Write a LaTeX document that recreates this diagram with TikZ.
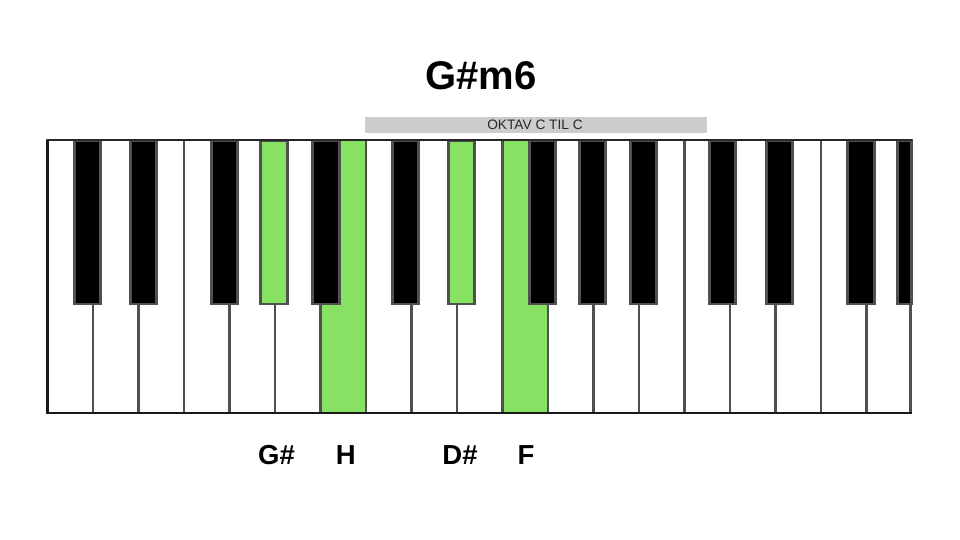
\documentclass[tikz,border=0pt]{standalone}
\usepackage{fontspec}
\setmainfont{Liberation Sans}
\definecolor{keygreen}{RGB}{135,226,99}
\definecolor{keyedge}{RGB}{80,80,80}
\definecolor{barfill}{RGB}{204,204,204}
\definecolor{bartext}{RGB}{40,40,40}
\tikzset{
  whitekey/.style={draw=keyedge, line width=2.7pt, fill=white, minimum width=45.5pt, minimum height=273pt, anchor=north west, inner sep=0pt, outer sep=0pt},
  blackkey/.style={draw=keyedge, line width=2.7pt, fill=black, minimum width=26.5pt, minimum height=163.5pt, anchor=north, inner sep=0pt, outer sep=0pt},
  greenwhite/.style={whitekey, fill=keygreen},
  greenblack/.style={blackkey, fill=keygreen},
  notelabel/.style={font=\bfseries\fontsize{27.5}{30}\selectfont, anchor=base, inner sep=0pt},
}
\begin{document}
\begin{tikzpicture}[x=1pt, y=-1pt]
\useasboundingbox[fill=white] (0,0) rectangle (960,540);
% title
\node[font=\bfseries\fontsize{40}{46}\selectfont, anchor=base, inner sep=0pt] (title) at (481,90) {G\#m6};
% octave bar
\node[fill=barfill, minimum width=342pt, minimum height=16pt, inner sep=0pt] (bar) at (536,125) {};
\node[font=\fontsize{13.7}{15}\selectfont, text=bartext, anchor=base, inner sep=0pt] (bartxt) at (535,130) {OKTAV C TIL C};
% keyboard
\foreach \i in {0,...,18} {
  \ifnum\i=6
    \node[greenwhite] (w\i) at ({47.5+\i*45.5},140) {};
  \else\ifnum\i=10
    \node[greenwhite] (w\i) at ({47.5+\i*45.5},140) {};
  \else
    \node[whitekey, minimum width={\ifnum\i=18 44pt\else 45.5pt\fi}] (w\i) at ({47.5+\i*45.5},140) {};
  \fi\fi
}
\foreach \c [count=\j] in {87.5,143.5,224.5,326,405.5,542.5,592.5,643.5,722.5,779.5,861}
  \node[blackkey] (b\j) at (\c,140.5) {};
\node[blackkey, minimum width=14pt, anchor=north west] (b12) at (897.5,140.5) {};
\node[greenblack] (gs) at (274,140.5) {};
\node[greenblack] (ds) at (461.5,140.5) {};
% outer frame (top, left, bottom)
\coordinate (ftr) at (911.5,140);
\coordinate (ftl) at (47.5,140);
\coordinate (fbl) at (47.5,413);
\coordinate (fbr) at (911.5,413);
\draw[black!85, line width=1.6pt] (ftr) -- (ftl);
\draw[black!90, line width=2.2pt] (ftl) -- (fbl) -- (fbr);
% labels
\node[notelabel] (lgs) at (276.5,464.5) {G\#};
\node[notelabel] (lh) at (345.8,464.5) {H};
\node[notelabel] (lds) at (460,464.5) {D\#};
\node[notelabel] (lf) at (526,464.5) {F};
\end{tikzpicture}
\end{document}
